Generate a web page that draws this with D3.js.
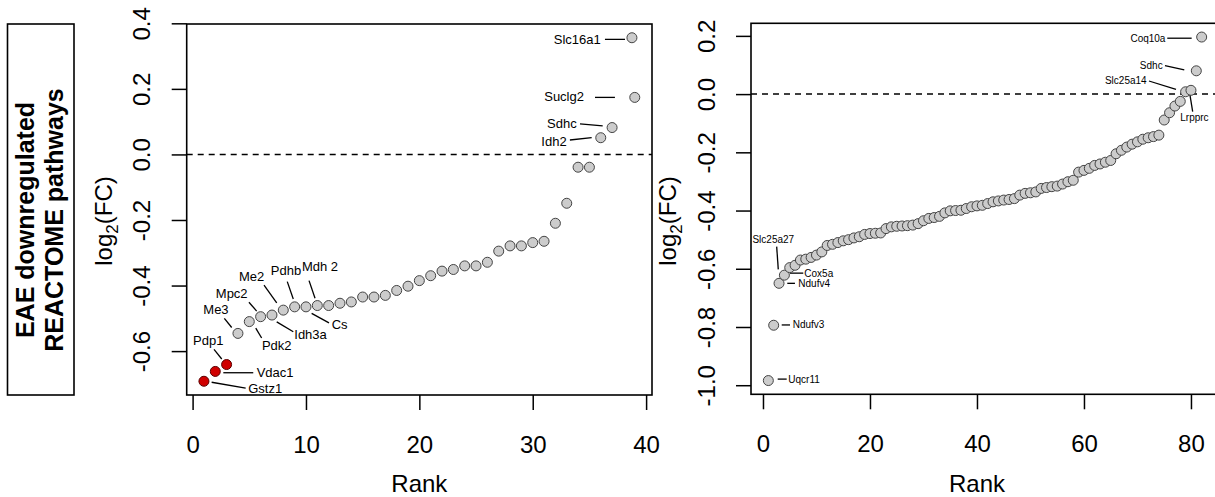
<!DOCTYPE html>
<meta charset="utf-8">
<style>
body { margin: 0; background: #fff; }
svg text { font-family: "Liberation Sans", Arial, Helvetica, sans-serif; fill: #000; }
</style>
<svg id="chart" width="1215" height="497"></svg>
<script src="https://cdn.jsdelivr.net/npm/d3@7/dist/d3.min.js"></script>
<script>

// ---- left panel data (rank, log2FC) ----
var leftRank = [1, 2, 3, 4, 5, 6, 7, 8, 9, 10, 11, 12, 13, 14, 15, 16, 17, 18, 19, 20,
                21, 22, 23, 24, 25, 26, 27, 28, 29, 30, 31, 32, 33, 34, 35, 36, 37, 39, 38.75];
var leftFC = [-0.692, -0.662, -0.641, -0.546, -0.510, -0.495, -0.490, -0.475, -0.465, -0.465,
              -0.461, -0.461, -0.454, -0.450, -0.435, -0.435, -0.430, -0.415, -0.402, -0.385,
              -0.370, -0.356, -0.351, -0.340, -0.340, -0.329, -0.295, -0.279, -0.279, -0.269,
              -0.265, -0.210, -0.149, -0.039, -0.039, 0.051, 0.082, 0.174, 0.356];
var leftRed = [1, 2, 3];   // Gstz1, Vdac1, Pdp1
var leftXTicks = [0, 10, 20, 30, 40];
var leftYTicks = [-0.6, -0.4, -0.2, 0.0, 0.2, 0.4];

// label table: text anchor point + leader segment, in data units
var leftLabels = [
  { gene: "Slc16a1", anchor: "end",    tx: 36.0,  ty: 0.351,  seg: [36.37, 0.351, 38.14, 0.351] },
  { gene: "Suclg2",  anchor: "end",    tx: 34.52, ty: 0.176,  seg: [35.49, 0.174, 37.25, 0.174] },
  { gene: "Sdhc",    anchor: "end",    tx: 33.88, ty: 0.095,  seg: [34.17, 0.093, 36.17, 0.087] },
  { gene: "Idh2",    anchor: "end",    tx: 32.99, ty: 0.040,  seg: [33.28, 0.044, 35.20, 0.051] },
  { gene: "Me2",     anchor: "middle", tx: 5.21,  ty: -0.373, seg: [6.30, -0.399, 7.42, -0.453] },
  { gene: "Pdhb",    anchor: "middle", tx: 8.24,  ty: -0.355, seg: [8.35, -0.388, 8.88, -0.441] },
  { gene: "Mdh 2",   anchor: "middle", tx: 11.24, ty: -0.341, seg: [10.27, -0.385, 10.80, -0.439] },
  { gene: "Mpc2",    anchor: "middle", tx: 3.45,  ty: -0.424, seg: [4.97, -0.451, 5.65, -0.478] },
  { gene: "Me3",     anchor: "middle", tx: 2.06,  ty: -0.473, seg: [2.80, -0.500, 3.45, -0.528] },
  { gene: "Pdp1",    anchor: "middle", tx: 1.38,  ty: -0.566, seg: [1.89, -0.595, 2.57, -0.624] },
  { gene: "Vdac1",   anchor: "start",  tx: 5.65,  ty: -0.666, seg: [2.71, -0.666, 5.35, -0.666] },
  { gene: "Gstz1",   anchor: "start",  tx: 4.91,  ty: -0.713, seg: [1.68, -0.695, 4.68, -0.713] },
  { gene: "Pdk2",    anchor: "middle", tx: 7.42,  ty: -0.584, seg: [5.57, -0.530, 6.09, -0.560] },
  { gene: "Idh3a",   anchor: "start",  tx: 8.97,  ty: -0.548, seg: [7.42, -0.511, 8.88, -0.541] },
  { gene: "Cs",      anchor: "start",  tx: 12.27, ty: -0.518, seg: [10.50, -0.485, 12.03, -0.514] }
];

// ---- right panel data ----
var rightFC = [-0.984, -0.794, -0.650, -0.622, -0.596, -0.588, -0.570, -0.567, -0.561, -0.553,
               -0.542, -0.520, -0.516, -0.510, -0.504, -0.500, -0.494, -0.490, -0.482, -0.479,
               -0.478, -0.477, -0.462, -0.456, -0.454, -0.453, -0.452, -0.450, -0.445, -0.435,
               -0.427, -0.424, -0.420, -0.408, -0.401, -0.400, -0.399, -0.393, -0.387, -0.384,
               -0.382, -0.376, -0.370, -0.367, -0.364, -0.362, -0.359, -0.347, -0.341, -0.339,
               -0.336, -0.324, -0.321, -0.318, -0.316, -0.309, -0.301, -0.296, -0.268, -0.262,
               -0.255, -0.245, -0.240, -0.234, -0.228, -0.205, -0.193, -0.182, -0.172, -0.164,
               -0.155, -0.150, -0.146, -0.141, -0.089, -0.064, -0.041, -0.025, 0.008, 0.013,
               0.080, 0.196];
var rightRank = rightFC.map(function(d, i) { return i + 1; });
var rightRed = [];
var rightXTicks = [0, 20, 40, 60, 80];
var rightYTicks = [-1.0, -0.8, -0.6, -0.4, -0.2, 0.0, 0.2];

var rightLabels = [
  { gene: "Coq10a",   anchor: "end",    tx: 75.23, ty: 0.192,  seg: [75.57, 0.192, 80.13, 0.192] },
  { gene: "Sdhc",     anchor: "end",    tx: 74.71, ty: 0.098,  seg: [75.14, 0.098, 78.75, 0.083] },
  { gene: "Slc25a14", anchor: "end",    tx: 71.72, ty: 0.048,  seg: [72.15, 0.045, 77.20, 0.016] },
  { gene: "Lrpprc",   anchor: "middle", tx: 80.65, ty: -0.079, seg: [79.81, -0.003, 80.32, -0.060] },
  { gene: "Slc25a27", anchor: "middle", tx: 1.93,  ty: -0.501, seg: [2.56, -0.524, 2.86, -0.602] },
  { gene: "Cox5a",    anchor: "start",  tx: 7.72,  ty: -0.615, seg: [5.05, -0.615, 7.53, -0.615] },
  { gene: "Ndufv4",   anchor: "start",  tx: 6.60,  ty: -0.650, seg: [4.54, -0.650, 5.98, -0.650] },
  { gene: "Ndufv3",   anchor: "start",  tx: 5.55,  ty: -0.793, seg: [3.50, -0.793, 5.05, -0.793] },
  { gene: "Uqcr11",   anchor: "start",  tx: 4.73,  ty: -0.979, seg: [2.75, -0.979, 4.43, -0.979] }
];

var svg = d3.select("#chart");

// R style range: data range padded by 4% each side
function padRange(vals) {
    var e = d3.extent(vals), p = (e[1] - e[0]) * 0.04;
    return [e[0] - p, e[1] + p];
}

var fmt = function(d) { return d3.format(".1f")(d).replace("\u2212", "-"); };

// side label box
svg.append("rect")
    .attr("x", 7.5).attr("y", 24)
    .attr("width", 66.5).attr("height", 371)
    .attr("fill", "none").attr("stroke", "#000").attr("stroke-width", 1.6);

var sideText = svg.append("g").attr("transform", "translate(0,220) rotate(-90)");
sideText.append("text").attr("x", 0).attr("y", 34)
    .attr("text-anchor", "middle").attr("font-size", 25).attr("font-weight", "bold")
    .text("EAE downregulated");
sideText.append("text").attr("x", 0).attr("y", 63)
    .attr("text-anchor", "middle").attr("font-size", 25).attr("font-weight", "bold")
    .text("REACTOME pathways");

function drawPanel(cfg) {
    var x = d3.scaleLinear().domain(padRange(cfg.rank)).range([cfg.left, cfg.right]);
    var y = d3.scaleLinear().domain(padRange(cfg.fc)).range([cfg.bottom, cfg.top]);
    var g = svg.append("g");

    // axes
    var xa = g.append("g")
        .attr("transform", "translate(0," + cfg.bottom + ")")
        .call(d3.axisBottom(x).tickValues(cfg.xTicks).tickSize(15).tickSizeOuter(0).tickFormat(d3.format("d")));
    xa.select(".domain").remove();
    xa.selectAll("line").attr("stroke", "#000").attr("stroke-width", 1.5);
    xa.selectAll("text").attr("y", 58).attr("dy", null)
        .attr("font-size", 24).attr("fill", "#000");

    var ya = g.append("g")
        .attr("transform", "translate(" + cfg.left + ",0)")
        .call(d3.axisLeft(y).tickValues(cfg.yTicks).tickSize(15).tickSizeOuter(0).tickFormat(fmt));
    ya.select(".domain").remove();
    ya.selectAll("line").attr("stroke", "#000").attr("stroke-width", 1.5);
    ya.selectAll("text")
        .attr("transform", "rotate(-90)")
        .attr("x", 0).attr("y", -36.5).attr("dy", null)
        .attr("text-anchor", "middle").attr("font-size", 24).attr("fill", "#000");

    // titles
    g.append("text")
        .attr("x", (x(cfg.xTicks[0]) + x(cfg.xTicks[cfg.xTicks.length - 1])) / 2).attr("y", 492)
        .attr("text-anchor", "middle").attr("font-size", 24)
        .text("Rank");

    var yt = g.append("text")
        .attr("transform", "translate(" + (cfg.left - 75) + ",221) rotate(-90)")
        .attr("text-anchor", "middle").attr("font-size", 24);
    yt.append("tspan").text("log");
    yt.append("tspan").attr("font-size", 17).attr("dy", 6).text("2");
    yt.append("tspan").attr("dy", -6).text("(FC)");

    // zero line
    g.append("line")
        .attr("x1", cfg.left).attr("x2", cfg.right)
        .attr("y1", y(0)).attr("y2", y(0))
        .attr("stroke", "#000").attr("stroke-width", 1.5)
        .attr("stroke-dasharray", "6,5");

    // leader lines + labels
    g.selectAll(".seg").data(cfg.labels).enter().append("line")
        .attr("x1", function(d) { return x(d.seg[0]); })
        .attr("y1", function(d) { return y(d.seg[1]); })
        .attr("x2", function(d) { return x(d.seg[2]); })
        .attr("y2", function(d) { return y(d.seg[3]); })
        .attr("stroke", "#000").attr("stroke-width", 1.3);

    g.selectAll(".lab").data(cfg.labels).enter().append("text")
        .attr("x", function(d) { return x(d.tx); })
        .attr("y", function(d) { return y(d.ty); })
        .attr("dy", "0.35em")
        .attr("text-anchor", function(d) { return d.anchor; })
        .attr("font-size", cfg.labelSize)
        .text(function(d) { return d.gene; });

    // points
    var pts = cfg.rank.map(function(r, i) { return { r: r, v: cfg.fc[i], red: cfg.red.indexOf(r) >= 0 }; });
    g.selectAll(".pt").data(pts).enter().append("circle")
        .attr("cx", function(d) { return x(d.r); })
        .attr("cy", function(d) { return y(d.v); })
        .attr("r", 5)
        .attr("fill", function(d) { return d.red ? "#d00000" : "#cccccc"; })
        .attr("stroke", function(d) { return d.red ? "#5a0000" : "#444"; })
        .attr("stroke-width", 1);

    // box
    g.append("rect")
        .attr("x", cfg.left).attr("y", cfg.top)
        .attr("width", cfg.right - cfg.left).attr("height", cfg.bottom - cfg.top)
        .attr("fill", "none").attr("stroke", "#000").attr("stroke-width", 1.6);
}

drawPanel({
    rank: leftRank, fc: leftFC, red: leftRed, labels: leftLabels,
    xTicks: leftXTicks, yTicks: leftYTicks, labelSize: 13,
    left: 186.7, right: 652, top: 24, bottom: 395
});

drawPanel({
    rank: rightRank, fc: rightFC, red: rightRed, labels: rightLabels,
    xTicks: rightXTicks, yTicks: rightYTicks, labelSize: 10,
    left: 751, right: 1219, top: 23.3, bottom: 394.3
});

</script>
